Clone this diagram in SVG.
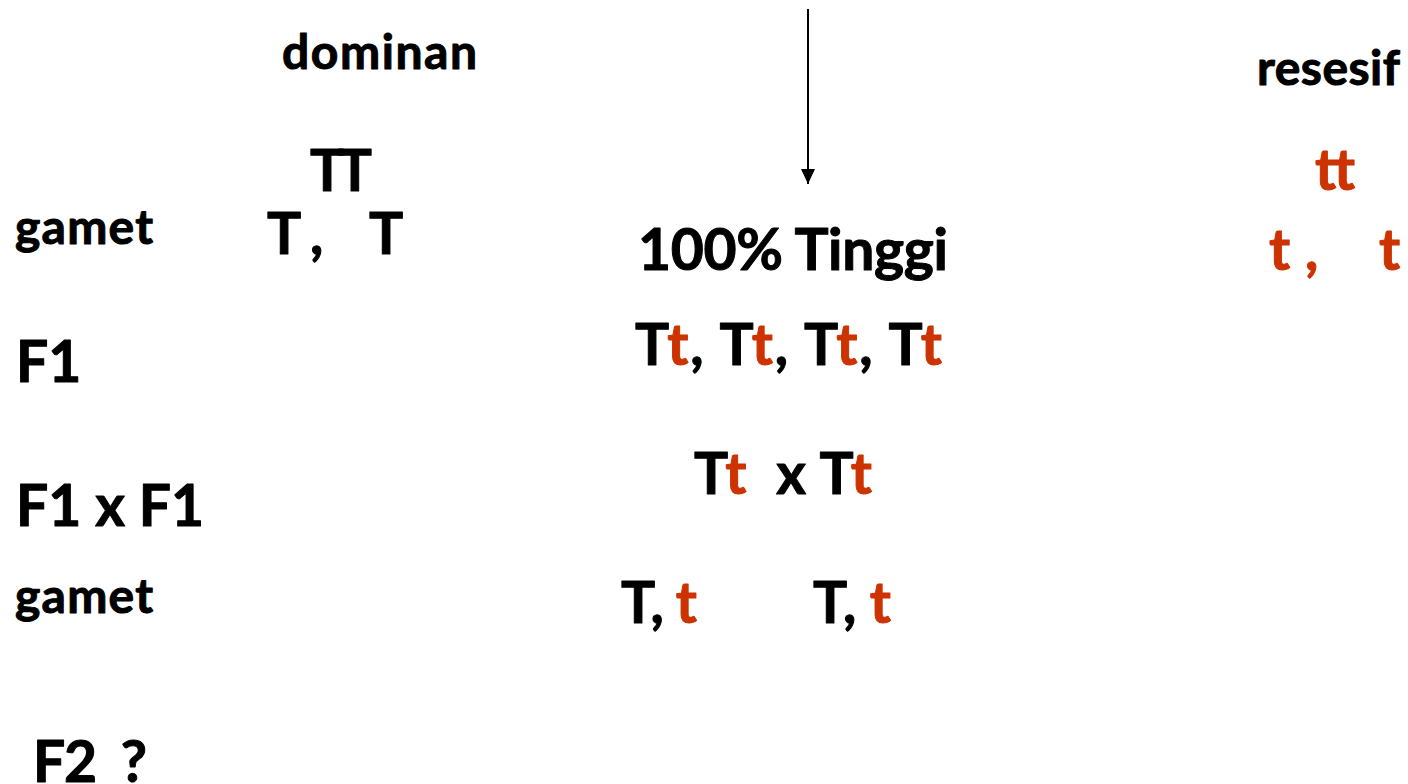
<svg xmlns="http://www.w3.org/2000/svg" width="1408" height="784" viewBox="0 0 1408 784">
<style>
text{font-family:Lato,"Open Sans","Liberation Sans",sans-serif;font-weight:700;fill:#000;stroke:#000;stroke-width:1px;stroke-linejoin:round;white-space:pre}
.b{font-size:57px}
.s{font-size:48px}
.r{fill:#CC3300;stroke:#CC3300}
</style>
<defs>
<marker id="ah" markerWidth="16" markerHeight="14" refX="15" refY="7" orient="auto" markerUnits="userSpaceOnUse">
<path d="M0,0 L15,7 L0,14 Z" fill="#000"/>
</marker>
</defs>
<rect width="1408" height="784" fill="#fff"/>
<g id="connectors">
<line x1="808" y1="9" x2="808" y2="184" stroke="#000" stroke-width="2" marker-end="url(#ah)"/>
</g>
<g id="dominan"><text class="s" x="282" y="69" textLength="195">dominan</text></g>
<g id="resesif"><text class="s" x="1257" y="85" textLength="143">resesif</text></g>
<g id="TT"><text class="b" x="310" y="191" textLength="62">TT</text></g>
<g id="tt"><text class="b r" x="1315" y="190" textLength="42">tt</text></g>
<g id="gamet1"><text class="s" x="15" y="244" textLength="138">gamet</text></g>
<g id="gametT"><text class="b" x="267" y="254">T</text><text class="b" x="310" y="254">,</text><text class="b" x="369" y="254">T</text></g>
<g id="gamett"><text class="b r" x="1269" y="270">t</text><text class="b r" x="1305" y="270">,</text><text class="b r" x="1379" y="270">t</text></g>
<g id="tinggi"><text class="b" x="638" y="270" textLength="310">100% Tinggi</text></g>
<g id="F1"><text class="b" x="16" y="382">F1</text></g>
<g id="F1geno"><text class="b" x="635" y="365" textLength="307">T<tspan class="r">t</tspan>, T<tspan class="r">t</tspan>, T<tspan class="r">t</tspan>, T<tspan class="r">t</tspan></text></g>
<g id="F1xF1"><text class="b" x="16" y="526">F1 x F1</text></g>
<g id="cross"><text class="b" x="694" y="494" textLength="178">T<tspan class="r">t</tspan>  x T<tspan class="r">t</tspan></text></g>
<g id="gamet2"><text class="s" x="15" y="613" textLength="138">gamet</text></g>
<g id="gam1"><text class="b" x="621" y="623" textLength="76">T, <tspan class="r">t</tspan></text></g>
<g id="gam2"><text class="b" x="813" y="623" textLength="78">T, <tspan class="r">t</tspan></text></g>
<g id="F2"><text class="b" x="33" y="782" textLength="114">F2  ?</text></g>
</svg>
